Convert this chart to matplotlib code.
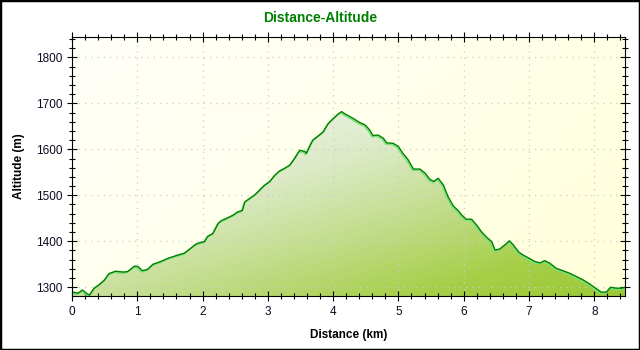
import matplotlib

matplotlib.use("Agg")
import matplotlib.pyplot as plt
import numpy as np
from matplotlib.colors import LinearSegmentedColormap
from matplotlib.patches import Polygon, Rectangle
from matplotlib.ticker import MultipleLocator
import matplotlib.transforms as mtransforms

# track profile: distance (km) and altitude (m)
distance_km = [
    0.0, 0.03, 0.09, 0.16, 0.24, 0.27, 0.34, 0.42, 0.50, 0.57,
    0.67, 0.78, 0.85, 0.96, 1.01, 1.08, 1.16, 1.24, 1.36, 1.47,
    1.62, 1.72, 1.82, 1.90, 1.98, 2.03, 2.08, 2.16, 2.24, 2.29,
    2.37, 2.47, 2.54, 2.61, 2.65, 2.72, 2.80, 2.88, 2.95, 3.03,
    3.11, 3.18, 3.26, 3.34, 3.41, 3.49, 3.57, 3.59, 3.64, 3.69,
    3.77, 3.85, 3.92, 3.98, 4.08, 4.13, 4.18, 4.26, 4.33, 4.41,
    4.49, 4.56, 4.61, 4.69, 4.77, 4.82, 4.92, 5.00, 5.07, 5.15,
    5.23, 5.33, 5.41, 5.48, 5.54, 5.61, 5.69, 5.76, 5.84, 5.92,
    5.97, 6.04, 6.12, 6.20, 6.27, 6.35, 6.43, 6.48, 6.55, 6.63,
    6.70, 6.76, 6.84, 6.91, 6.99, 7.09, 7.17, 7.24, 7.32, 7.42,
    7.52, 7.63, 7.73, 7.83, 7.93, 8.04, 8.11, 8.19, 8.25, 8.34,
    8.42, 8.47,
]
altitude_m = [
    1290, 1289, 1287, 1294, 1285, 1283, 1298, 1306, 1316, 1330,
    1335, 1333, 1334, 1346, 1345, 1336, 1339, 1350, 1356, 1363,
    1370, 1374, 1385, 1394, 1398, 1399, 1411, 1417, 1439, 1445,
    1450, 1457, 1464, 1467, 1486, 1493, 1501, 1512, 1522, 1530,
    1544, 1553, 1559, 1566, 1580, 1598, 1595, 1591, 1606, 1620,
    1629, 1638, 1655, 1664, 1677, 1682, 1677, 1671, 1665, 1658,
    1653, 1642, 1630, 1631, 1624, 1614, 1613, 1606, 1591, 1577,
    1557, 1557, 1548, 1535, 1530, 1537, 1522, 1497, 1477, 1466,
    1457, 1448, 1448, 1435, 1421, 1409, 1399, 1381, 1383, 1392,
    1401, 1392, 1377, 1370, 1364, 1356, 1353, 1358, 1352, 1341,
    1336, 1330, 1323, 1316, 1307, 1296, 1289, 1290, 1300, 1298,
    1298, 1300,
]

X_MIN, X_MAX = 0.0, 8.47
Y_MIN, Y_MAX = 1281, 1845

plt.rcParams["font.family"] = ["Liberation Sans", "DejaVu Sans"]

fig = plt.figure(figsize=(6.4, 3.5), dpi=100, facecolor="white")
ax = fig.add_axes([0.1125, 0.1543, 0.864, 0.741])
ax.set_xlim(X_MIN, X_MAX)
ax.set_ylim(Y_MIN, Y_MAX)

# diagonal background gradient: near white top-left, pale yellow right
gx, gy = np.meshgrid(np.linspace(0, 1, 200), np.linspace(1, 0, 120))
bg = np.clip(0.65 * gx + 0.35 * (1 - gy), 0, 1)
bg_cmap = LinearSegmentedColormap.from_list("bg", ["#FFFFFA", "#FFFFDA"])
ax.imshow(bg, cmap=bg_cmap, extent=(X_MIN, X_MAX, Y_MIN, Y_MAX),
          aspect="auto", zorder=0, interpolation="bilinear")

# gradient fill under the profile, lighter towards the summit
d = np.array(distance_km)
a = np.array(altitude_m)
verts = np.column_stack([np.r_[d[0], d, d[-1]], np.r_[Y_MIN, a, Y_MIN]])
poly = Polygon(verts, closed=True, facecolor="none", edgecolor="none")
ax.add_patch(poly)
top = (max(altitude_m) - Y_MIN) / (Y_MAX - Y_MIN)
fy, fx = np.meshgrid(np.linspace(1, 0, 120), np.linspace(0, 1, 200), indexing="ij")
fg = np.clip(0.5 * fx + 0.55 * (1 - fy / top), 0, 1.2)
fill_cmap = LinearSegmentedColormap.from_list(
    "fill", ["#EEF3E6", "#DCEAC6", "#C2DD8C", "#A6CF48", "#98C832"])
im = ax.imshow(fg, cmap=fill_cmap, extent=(X_MIN, X_MAX, Y_MIN, Y_MAX),
               aspect="auto", zorder=1, interpolation="bilinear",
               vmin=0.15, vmax=1.1)
im.set_clip_path(poly)

# light green shadow line, then the dark line on top
shadow = mtransforms.offset_copy(ax.transData, fig=fig, x=-1, y=-1.2, units="dots")
ax.plot(d, a, color="#7EE07E", lw=1.2, transform=shadow, zorder=3)
ax.plot(d, a, color="#008000", lw=1.0, zorder=4)

ax.xaxis.set_major_locator(MultipleLocator(1))
ax.xaxis.set_minor_locator(MultipleLocator(0.2))
ax.yaxis.set_major_locator(MultipleLocator(100))
ax.yaxis.set_minor_locator(MultipleLocator(20))
ax.set_yticks(range(1300, 1801, 100))

ax.grid(True, which="major", color="#CCCCCC", linestyle=(0, (1, 4)), lw=0.9)
for gl in ax.get_xgridlines() + ax.get_ygridlines():
    gl.set_zorder(0.5)

ax.tick_params(which="both", direction="inout", colors="black",
               labelcolor="#0A0A20", labelsize=8.5, width=0.8,
               top=True, right=True)
ax.tick_params(which="major", length=7)
ax.tick_params(which="minor", length=4)
for spine in ax.spines.values():
    spine.set_linewidth(0.8)
    spine.set_zorder(5)

ax.set_xlabel("Distance (km)", fontsize=8.5, fontweight="bold", labelpad=8)
ax.set_ylabel("Altitude (m)", fontsize=8.5, fontweight="bold", labelpad=8)
fig.text(0.5, 0.948, "Distance-Altitude", ha="center", va="center",
         fontsize=10, fontweight="bold", color="#008000")

# outer frame
fig.patches.append(Rectangle((0, 0), 1, 1, transform=fig.transFigure,
                             fill=False, edgecolor="black", lw=2.5))

fig.savefig("out.png", dpi=100)
